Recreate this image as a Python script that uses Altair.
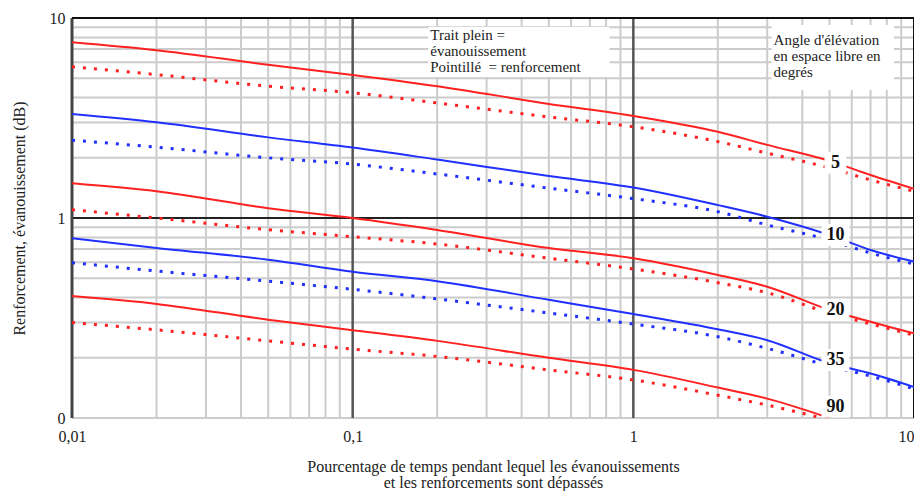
import altair as alt
import numpy as np
import pandas as pd

# ---- data ----
pct = [0.01, 0.02, 0.05, 0.1, 0.2, 0.5, 1, 2, 3, 5, 7, 10]
fade_5 = [7.56, 6.90, 5.84, 5.19, 4.56, 3.72, 3.24, 2.70, 2.32, 1.93, 1.64, 1.40]
enh_5 = [5.71, 5.21, 4.56, 4.23, 3.76, 3.20, 2.86, 2.41, 2.11, 1.78, 1.55, 1.36]
fade_10 = [3.31, 3.01, 2.53, 2.25, 1.96, 1.62, 1.42, 1.16, 1.015, 0.822, 0.692, 0.605]
enh_10 = [2.45, 2.26, 2.00, 1.86, 1.66, 1.41, 1.25, 1.075, 0.923, 0.776, 0.668, 0.589]
fade_20 = [1.49, 1.36, 1.12, 1.00, 0.871, 0.708, 0.629, 0.519, 0.453, 0.347, 0.303, 0.265]
enh_20 = [1.10, 1.00, 0.874, 0.806, 0.741, 0.629, 0.556, 0.475, 0.423, 0.335, 0.295, 0.260]
fade_35 = [0.792, 0.708, 0.619, 0.539, 0.483, 0.390, 0.331, 0.278, 0.245, 0.188, 0.167, 0.143]
enh_35 = [0.598, 0.543, 0.483, 0.440, 0.394, 0.335, 0.295, 0.255, 0.223, 0.182, 0.162, 0.140]
pct_90_fade = [0.01, 0.02, 0.05, 0.1, 0.2, 0.5, 1, 2, 3, 5]
fade_90 = [0.407, 0.372, 0.310, 0.275, 0.243, 0.200, 0.174, 0.142, 0.125, 0.100]
pct_90_enh = [0.01, 0.02, 0.05, 0.1, 0.2, 0.5, 1, 2, 3, 4.7]
enh_90 = [0.300, 0.276, 0.243, 0.221, 0.203, 0.174, 0.155, 0.130, 0.116, 0.100]

angles = ["5", "10", "20", "35", "90"]
label_x = 5.25
label_y = [1.89, 0.822, 0.347, 0.195, 0.114]

x_ticks = [0.01, 0.1, 1, 10]
y_ticks = [0.1, 1, 10]
x_minor = [m * d for d in (0.01, 0.1, 1) for m in range(2, 10)]
y_minor = [0.1] + [m * d for d in (0.1, 1) for m in range(2, 10)]
x_major = [0.1, 1]
y_major = [1]

note_left = "Trait plein =\névanouissement\nPointillé\u00a0 = renforcement"
note_right = "Angle d'élévation\nen espace libre en\ndegrés"

RED = "#ff2020"
BLUE = "#2030ff"
FONT = "Liberation Serif"
INK = "#222222"

# ---- tables ----
rows = []
series = [
    ("5", "fade", pct, fade_5), ("5", "enh", pct, enh_5),
    ("10", "fade", pct, fade_10), ("10", "enh", pct, enh_10),
    ("20", "fade", pct, fade_20), ("20", "enh", pct, enh_20),
    ("35", "fade", pct, fade_35), ("35", "enh", pct, enh_35),
    ("90", "fade", pct_90_fade, fade_90), ("90", "enh", pct_90_enh, enh_90),
]
for ang, kind, xs, ys in series:
    for i, (xv, yv) in enumerate(zip(xs, ys)):
        rows.append({"p": xv, "v": yv, "angle": ang, "kind": kind,
                     "key": ang + kind, "order": i})
curves = pd.DataFrame(rows)

xscale = alt.Scale(type="log", domain=[0.01, 10], nice=False)
yscale = alt.Scale(type="log", domain=[0.1, 10], nice=False)

axis_style = dict(grid=False, ticks=False, domain=False, labelFlush=False,
                  labelOverlap=False, labelFont=FONT, labelFontSize=16,
                  labelColor=INK, titleFont=FONT, titleFontSize=16,
                  titleFontWeight="normal", titleColor=INK)
x_axis = alt.Axis(values=x_ticks, labelExpr="replace(toString(datum.value), '.', ',')",
                  labelAlign={"condition": {"test": "datum.value >= 10", "value": "right"},
                              "value": "center"},
                  title=["Pourcentage de temps pendant lequel les évanouissements",
                         "et les renforcements sont dépassés"],
                  labelPadding=10, titlePadding=14, titleLineHeight=16, **axis_style)
y_axis = alt.Axis(values=y_ticks, labelExpr="datum.value < 0.5 ? '0' : toString(datum.value)",
                  title="Renforcement, évanouissement (dB)",
                  labelPadding=7, titlePadding=22, **axis_style)

X = lambda f: alt.X(f, type="quantitative", scale=xscale, axis=x_axis)
Y = lambda f: alt.Y(f, type="quantitative", scale=yscale, axis=y_axis)

color = alt.Color("angle:N", scale=alt.Scale(domain=angles,
                  range=[RED, BLUE, RED, BLUE, RED]), legend=None)

vminor = alt.Chart(pd.DataFrame({"p": x_minor})).mark_rule(
    color="#cccccc", strokeWidth=2).encode(x=X("p"))
hminor = alt.Chart(pd.DataFrame({"v": y_minor})).mark_rule(
    color="#cccccc", strokeWidth=2).encode(y=Y("v"))
vmajor = alt.Chart(pd.DataFrame({"p": x_major})).mark_rule(
    color="#555555", strokeWidth=2.5).encode(x=X("p"))
hmajor = alt.Chart(pd.DataFrame({"v": y_major})).mark_rule(
    color="#222222", strokeWidth=2).encode(y=Y("v"))
left_edge = alt.Chart(pd.DataFrame({"p": [0.01]})).mark_rule(
    color="#444444", strokeWidth=3).encode(x=X("p"))
right_edge = alt.Chart(pd.DataFrame({"p": [10]})).mark_rule(
    color="#111111", strokeWidth=2).encode(x=X("p"))
top_edge = alt.Chart(pd.DataFrame({"v": [10]})).mark_rule(
    color="#111111", strokeWidth=2).encode(y=Y("v"))

# white boxes behind the notes
boxes = pd.DataFrame({
    "x0": [0.186, 3.11], "x1": [0.822, 8.49],
    "y0": [5.07, 4.37], "y1": [9.02, 9.23],
})
note_boxes = alt.Chart(boxes).mark_rect(color="white").encode(
    x=X("x0"), x2="x1", y=Y("y0"), y2="y1")

solid = alt.Chart(curves).transform_filter("datum.kind == 'fade'").mark_line(
    strokeWidth=2, clip=True, interpolate="monotone").encode(
    x=X("p"), y=Y("v"), color=color, detail="key:N", order="order:Q")
dotted = alt.Chart(curves).transform_filter("datum.kind == 'enh'").mark_line(
    strokeWidth=3, strokeDash=[3, 8], clip=True, interpolate="monotone").encode(
    x=X("p"), y=Y("v"), color=color, detail="key:N", order="order:Q")

lab = pd.DataFrame({"t": angles, "x": [label_x] * 5, "y": label_y})
lx = np.log10(lab["x"])
ly = np.log10(lab["y"])
hw = np.where(lab["t"].str.len() > 1, 14 / 282, 11 / 282)
hh = 11 / 200
lab["x0"] = 10 ** (lx - hw)
lab["x1"] = 10 ** (lx + hw)
lab["y0"] = 10 ** (ly - hh)
lab["y1"] = 10 ** (ly + hh)
label_boxes = alt.Chart(lab).mark_rect(color="white", clip=True).encode(
    x=X("x0"), x2="x1", y=Y("y0"), y2="y1")
label_text = alt.Chart(lab).mark_text(
    font=FONT, fontSize=18, fontWeight="bold", color="#111111").encode(
    x=X("x"), y=Y("y"), text="t:N")

notes = pd.DataFrame({"x": [0.189, 3.16], "y": [8.9, 8.45],
                      "t": [note_left, note_right]})
note_text = alt.Chart(notes).mark_text(
    font=FONT, fontSize=15, align="left", baseline="top", lineHeight=16,
    lineBreak="\n", color=INK).encode(x=X("x"), y=Y("y"), text="t:N")

chart = alt.layer(
    vminor, hminor, vmajor, hmajor, left_edge, right_edge, top_edge,
    note_boxes, solid, dotted, label_boxes, label_text, note_text
).properties(
    width=842, height=400,
    autosize=alt.AutoSizeParams(type="none"),
    padding={"left": 64, "top": 10, "right": 0, "bottom": 75},
    background="white",
).configure_view(stroke=None)

chart.save("out.html", embed_options={"renderer": "svg", "actions": False})
